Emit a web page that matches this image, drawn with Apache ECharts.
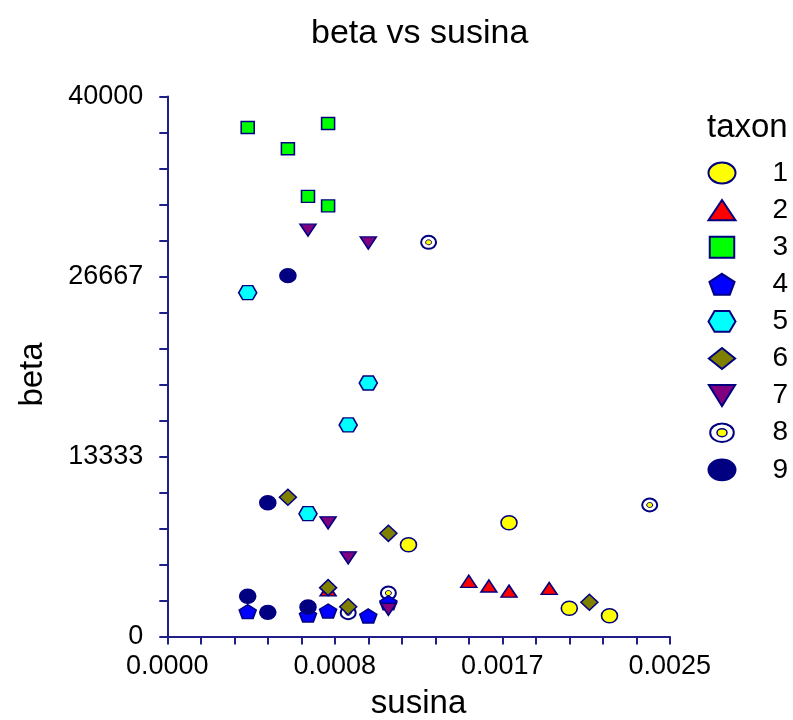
<!DOCTYPE html>
<html>
<head>
<meta charset="utf-8">
<script src="https://cdn.jsdelivr.net/npm/echarts@6/dist/echarts.min.js"></script>
<style>html,body{margin:0;padding:0;background:#fff}#c{width:793px;height:720px}</style>
</head>
<body>
<div id="c"></div>
<script>
// ---- data (susina, beta) per taxon ----
const taxonNames = ['1','2','3','4','5','6','7','8','9'];
const taxon1 = [[0.0012, 6800], [0.0017, 8430], [0.0020, 2090], [0.0022, 1540]];
const taxon2 = [[0.0008, 3450], [0.0015, 4090], [0.0016, 3740], [0.0017, 3360], [0.0019, 3560]];
const taxon3 = [[0.0004, 37700], [0.0006, 36130], [0.0007, 32600], [0.0008, 38000], [0.0008, 31900]];
const taxon4 = [[0.0004, 1840], [0.0007, 1590], [0.0008, 1890], [0.0010, 1520], [0.0011, 2500]];
const taxon5 = [[0.0004, 25470], [0.0007, 9100], [0.0009, 15670], [0.0010, 18780]];
const taxon6 = [[0.0006, 10310], [0.0008, 3620], [0.0009, 2210], [0.0011, 7640], [0.0021, 2530]];
const taxon7 = [[0.0007, 30100], [0.0008, 8420], [0.0009, 5830], [0.0010, 29150], [0.0011, 2020]];
const taxon8 = [[0.0009, 1760], [0.0011, 3220], [0.0013, 29200], [0.0024, 9740]];
const taxon9 = [[0.0004, 2980], [0.0005, 1790], [0.0005, 9910], [0.0006, 26730], [0.0007, 2190]];
const xTickLabels = ['0.0000', '0.0008', '0.0017', '0.0025'];
const yTickLabels = ['0', '13333', '26667', '40000'];

const NAVY = '#000080';
const AXIS = '#1f1f87';
const FONT = '"Liberation Sans", Arial, sans-serif';

const ELLIPSE = 'path://M0,10A13,10 0 1,0 26,10A13,10 0 1,0 0,10Z';
const TRI_UP = 'path://M1,0L2,1.5L0,1.5Z';
const SQUARE = 'path://M0,0H21V18H0Z';
const PENTA = 'path://M0,-1L1.084,-0.309L0.67,0.809L-0.67,0.809L-1.084,-0.309Z';
const HEXA = 'path://M-1,0L-0.55,-0.77L0.55,-0.77L1,0L0.55,0.77L-0.55,0.77Z';
const DIAM = 'path://M1,0L2,0.8L1,1.6L0,0.8Z';
const TRI_DN = 'path://M0,0L2,0L1,1.6Z';
const targetSvg = "<svg xmlns='http://www.w3.org/2000/svg' width='27' height='21' viewBox='0 0 27 21'>" +
  "<ellipse cx='13.5' cy='10.5' rx='11.8' ry='9.3' fill='white' stroke='#000080' stroke-width='2'/>" +
  "<ellipse cx='13.5' cy='10.5' rx='5' ry='4' fill='yellow' stroke='#000080' stroke-width='1.5'/></svg>";
const TARGET = 'image://data:image/svg+xml;charset=utf-8,' + encodeURIComponent(targetSvg);

function sc(name, data, symbol, size, color) {
  return {
    name: name, type: 'scatter', data: data, symbol: symbol, symbolSize: size,
    itemStyle: {color: color, borderColor: NAVY, borderWidth: 1.5, opacity: 1},
    emphasis: {disabled: true}
  };
}

const chart = echarts.init(document.getElementById('c'), null, {renderer: 'canvas'});
chart.setOption({
  animation: false,
  backgroundColor: '#fff',
  textStyle: {fontFamily: FONT},
  title: [
    {text: 'beta vs susina', left: 311, top: 17, padding: 0,
     textStyle: {fontSize: 34, fontWeight: 'normal', color: '#000', fontFamily: FONT}},
    {text: 'taxon', left: 707, top: 111, padding: 0,
     textStyle: {fontSize: 33, fontWeight: 'normal', color: '#000', fontFamily: FONT}}
  ],
  legend: {
    orient: 'vertical', left: 707.5, top: 159, padding: 0,
    itemWidth: 27, itemHeight: 21, itemGap: 9.1, selectedMode: false,
    textStyle: {fontSize: 28, color: '#000', lineHeight: 28, padding: [0, 0, 0, 32], fontFamily: FONT},
    data: [
      {name: '1', icon: ELLIPSE}, {name: '2', icon: TRI_UP}, {name: '3', icon: SQUARE},
      {name: '4', icon: PENTA}, {name: '5', icon: HEXA}, {name: '6', icon: DIAM},
      {name: '7', icon: TRI_DN}, {name: '8', icon: TARGET}, {name: '9', icon: ELLIPSE}
    ]
  },
  grid: {left: 167.3, right: 123.2, top: 96.5, bottom: 83.5, containLabel: false, outerBoundsMode: 'none'},
  xAxis: {
    type: 'value', min: 0, max: 0.0025, interval: 0.0025 / 3,
    name: 'susina', nameLocation: 'middle', nameGap: 51,
    nameTextStyle: {fontSize: 33, color: '#000', fontFamily: FONT},
    axisLine: {show: true, onZero: false, lineStyle: {color: AXIS, width: 2}},
    axisTick: {show: true, length: 8, lineStyle: {color: AXIS, width: 2}},
    minorTick: {show: true, splitNumber: 5, length: 8, lineStyle: {color: AXIS, width: 2}},
    splitLine: {show: false}, minorSplitLine: {show: false},
    axisLabel: {fontSize: 27, color: '#000', margin: 17, fontFamily: FONT,
      formatter: function (v) { return xTickLabels[Math.round(v / (0.0025 / 3))]; }}
  },
  yAxis: {
    type: 'value', min: 0, max: 40000, interval: 40000 / 3,
    name: 'beta', nameLocation: 'middle', nameGap: 118,
    nameTextStyle: {fontSize: 33, color: '#000', fontFamily: FONT, padding: [0, 16, 0, 0]},
    axisLine: {show: true, onZero: false, lineStyle: {color: AXIS, width: 2}},
    axisTick: {show: true, length: 8, lineStyle: {color: AXIS, width: 2}},
    minorTick: {show: true, splitNumber: 5, length: 8, lineStyle: {color: AXIS, width: 2}},
    splitLine: {show: false}, minorSplitLine: {show: false},
    axisLabel: {fontSize: 27, color: '#000', margin: 24, fontFamily: FONT,
      formatter: function (v) { return yTickLabels[Math.round(v / (40000 / 3))]; }}
  },
  series: [
    sc('1', taxon1, ELLIPSE, [16, 14], '#ffff00'),
    sc('2', taxon2, TRI_UP, [16, 12], '#ff0000'),
    sc('3', taxon3, SQUARE, [13, 12], '#00ff00'),
    sc('4', taxon4, PENTA, [17, 14], '#0000ff'),
    sc('5', taxon5, HEXA, [18, 14], '#00ffff'),
    sc('6', taxon6, DIAM, [17, 16], '#808000'),
    sc('7', taxon7, TRI_DN, [16, 12], '#800080'),
    {
      name: '8', type: 'custom', data: taxon8, encode: {x: 0, y: 1},
      itemStyle: {color: '#ffff00'},
      renderItem: function (params, api) {
        const p = api.coord([api.value(0), api.value(1)]);
        return {type: 'group', children: [
          {type: 'ellipse', shape: {cx: p[0], cy: p[1], rx: 7.5, ry: 6.5},
           style: {fill: '#fff', stroke: NAVY, lineWidth: 2}},
          {type: 'ellipse', shape: {cx: p[0], cy: p[1], rx: 3, ry: 2.5},
           style: {fill: '#ffff00', stroke: NAVY, lineWidth: 1}}
        ]};
      }
    },
    sc('9', taxon9, ELLIPSE, [16, 14], '#000080')
  ]
});
</script>
</body>
</html>
